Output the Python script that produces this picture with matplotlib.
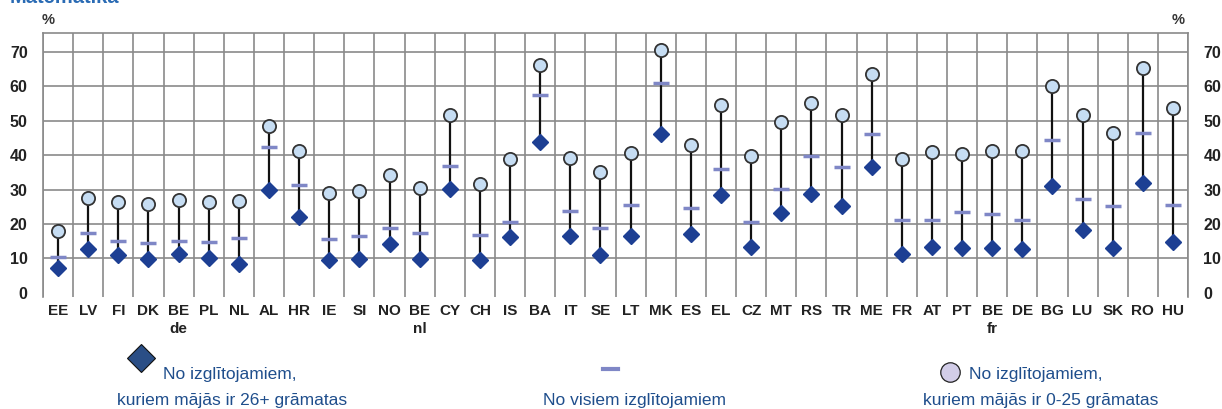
import numpy as np
import matplotlib.pyplot as plt
from matplotlib.lines import Line2D

plt.rcParams['font.family'] = ['Liberation Sans', 'DejaVu Sans']

# --- data ---
countries = ['EE', 'LV', 'FI', 'DK', 'BE\nde', 'PL', 'NL', 'AL', 'HR', 'IE', 'SI', 'NO', 'BE\nnl',
             'CY', 'CH', 'IS', 'BA', 'IT', 'SE', 'LT', 'MK', 'ES', 'EL', 'CZ', 'MT', 'RS', 'TR',
             'ME', 'FR', 'AT', 'PT', 'BE\nfr', 'DE', 'BG', 'LU', 'SK', 'RO', 'HU']
books_0_25 = [18.0, 27.5, 26.4, 25.7, 27.1, 26.3, 26.8, 48.6, 41.2, 28.9, 29.5, 34.3, 30.4,
              51.6, 31.5, 39.0, 66.3, 39.3, 35.2, 40.6, 70.6, 43.0, 54.6, 39.7, 49.7, 55.3, 51.6,
              63.7, 38.9, 41.0, 40.5, 41.3, 41.1, 60.2, 51.7, 46.5, 65.4, 53.8]
all_students = [10.4, 17.3, 15.1, 14.6, 15.2, 14.8, 15.9, 42.4, 31.2, 15.7, 16.5, 18.8, 17.4,
                36.9, 16.9, 20.6, 57.5, 23.8, 18.8, 25.5, 61.1, 24.6, 36.0, 20.6, 30.1, 39.8, 36.7,
                46.1, 21.3, 21.2, 23.5, 22.9, 21.2, 44.4, 27.3, 25.1, 46.5, 25.6]
books_26 = [7.1, 12.6, 10.9, 9.9, 11.4, 10.1, 8.5, 30.0, 21.9, 9.5, 9.9, 14.1, 9.9,
            30.2, 9.5, 16.3, 43.9, 16.6, 10.9, 16.4, 46.1, 17.2, 28.5, 13.4, 23.3, 28.8, 25.1,
            36.7, 11.3, 13.3, 12.9, 13.1, 12.8, 31.1, 18.4, 13.0, 31.8, 14.7]
yticks = [0, 10, 20, 30, 40, 50, 60, 70]

dark_blue = '#1d3f93'
light_blue = '#c6ddf3'
mean_col = '#7f87c6'
text_blue = '#1f4e8c'
grid_col = '#8a8a8a'

fig = plt.figure(figsize=(12.22, 4.09), dpi=100)
ax = fig.add_axes([0.0352, 0.274, 0.937, 0.645])

x = np.arange(len(countries))

# vertical line between the two book groups, then the three markers
ax.vlines(x, books_26, books_0_25, color='#111111', linewidth=1.6, zorder=3)
ax.plot(x, all_students, linestyle='none', marker='_', markersize=11, markeredgewidth=2.5,
        color=mean_col, zorder=4)
ax.plot(x, books_26, linestyle='none', marker='D', markersize=8.5, color=dark_blue, zorder=5)
ax.plot(x, books_0_25, linestyle='none', marker='o', markersize=9.5, markerfacecolor=light_blue,
        markeredgecolor='#333333', markeredgewidth=1.3, zorder=5)

ax.set_xlim(-0.5, len(countries) - 0.5)
ax.set_ylim(-1.2, 75.5)

# grid
ax.set_xticks(x)
ax.set_xticklabels(countries, fontsize=11, fontweight='bold', color='#222222', linespacing=1.35)
ax.set_xticks(np.arange(-0.5, len(countries)), minor=True)
ax.grid(True, which='minor', axis='x', color=grid_col, linewidth=1.2)
ax.set_yticks(yticks)
ax.set_yticklabels([str(v) for v in yticks], fontsize=11.5, fontweight='bold', color='#222222')
for v in yticks[1:]:
    ax.axhline(v, color=grid_col, linewidth=1.2, zorder=1)
ax.tick_params(axis='x', which='both', length=0, pad=5)
ax.tick_params(axis='y', which='both', length=0, pad=11, labelleft=True, labelright=True)
for side in ['left', 'right', 'top']:
    ax.spines[side].set_color(grid_col)
    ax.spines[side].set_linewidth(1.2)
ax.spines['bottom'].set_visible(False)
ax.set_axisbelow(True)

# labels (title is cut at the top edge, as in the original)
fig.text(0.008, 0.993, 'Matemātika', fontsize=14.5, fontweight='bold', color='#2a6bb4', va='baseline')
fig.text(48 / 1222, 1 - 20 / 409, '%', fontsize=10.5, fontweight='bold', color='#333333', ha='center', va='center')
fig.text(1178 / 1222, 1 - 20 / 409, '%', fontsize=10.5, fontweight='bold', color='#333333', ha='center', va='center')

# legend
fig.add_artist(Line2D([141 / 1222], [1 - 358 / 409], marker='D', markersize=14, color='#2a4e86',
                      markeredgecolor='#111111', markeredgewidth=0.8, transform=fig.transFigure))
fig.text(163 / 1222, 1 - 375 / 409, 'No izglītojamiem,', fontsize=12.5, color=text_blue, va='center')
fig.text(232 / 1222, 1 - 400 / 409, 'kuriem mājās ir 26+ grāmatas', fontsize=12.5, color=text_blue,
         va='center', ha='center')
fig.add_artist(Line2D([603 / 1222, 618 / 1222], [1 - 369 / 409, 1 - 369 / 409], color=mean_col,
                      linewidth=3, transform=fig.transFigure))
fig.text(635 / 1222, 1 - 400 / 409, 'No visiem izglītojamiem', fontsize=12.5, color=text_blue,
         va='center', ha='center')
fig.add_artist(Line2D([950 / 1222], [1 - 372 / 409], marker='o', markersize=14, color='#d2cde8',
                      markeredgecolor='#222222', markeredgewidth=0.9, transform=fig.transFigure))
fig.text(969 / 1222, 1 - 375 / 409, 'No izglītojamiem,', fontsize=12.5, color=text_blue, va='center')
fig.text(1041 / 1222, 1 - 400 / 409, 'kuriem mājās ir 0-25 grāmatas', fontsize=12.5, color=text_blue,
         va='center', ha='center')

fig.savefig('out.png', dpi=100)
